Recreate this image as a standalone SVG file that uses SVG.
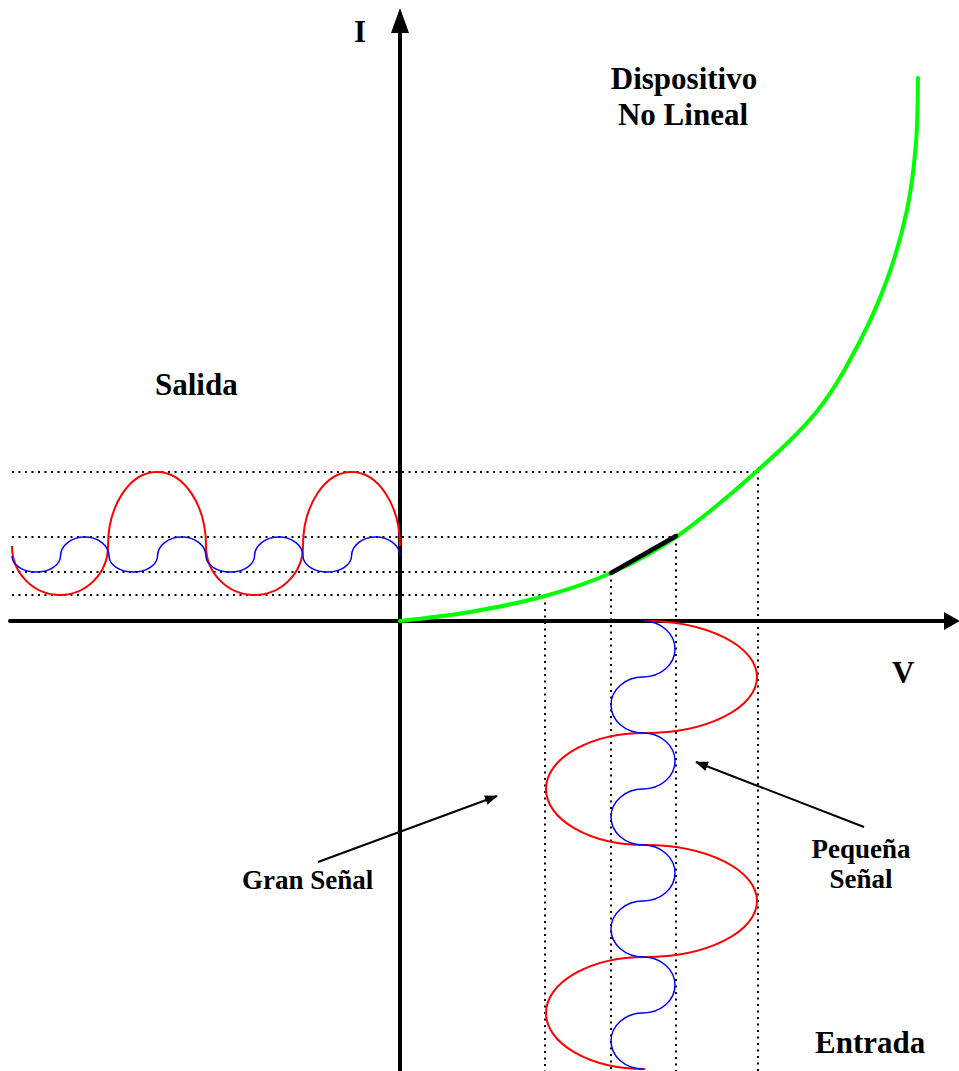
<svg xmlns="http://www.w3.org/2000/svg" width="959" height="1071" viewBox="0 0 959 1071">
<style>
.lbl{font-family:"Liberation Serif","Times New Roman",serif;font-weight:bold;fill:#000}
.big{font-size:31px}
.small{font-size:27px}
.dot{stroke:#000;stroke-width:2;stroke-dasharray:2 4.5;fill:none}
.axis{stroke:#000;stroke-width:4;fill:none;stroke-linecap:round}
.red{stroke:#ff0000;stroke-width:2;fill:none}
.blue{stroke:#0000ff;stroke-width:1.5;fill:none}
.ptr{stroke:#000;stroke-width:2;fill:none}
</style>
<defs>
<marker id="ah" markerUnits="userSpaceOnUse" markerWidth="14" markerHeight="12" refX="12" refY="5" orient="auto">
<path d="M0,0 L13,5 L0,10 z" fill="#000"/>
</marker>
</defs>
<rect width="959" height="1071" fill="#fff"/>

<g id="guides">
<line class="dot" x1="12" y1="472" x2="757" y2="472"/>
<line class="dot" x1="12" y1="537" x2="676" y2="537"/>
<line class="dot" x1="12" y1="572" x2="611" y2="572"/>
<line class="dot" x1="12" y1="595" x2="545" y2="595"/>
<line class="dot" x1="545" y1="596" x2="545" y2="1071"/>
<line class="dot" x1="611" y1="573" x2="611" y2="1071"/>
<line class="dot" x1="676" y1="537" x2="676" y2="1071"/>
<line class="dot" x1="758" y1="471" x2="758" y2="1071"/>
</g>

<g id="axes">
<line class="axis" x1="400" y1="30" x2="400" y2="1071"/>
<polygon points="400,8 391,33 409,33" fill="#000"/>
<line class="axis" x1="10" y1="621" x2="946" y2="621"/>
<polygon points="960,621 944,612 944,630" fill="#000"/>
</g>

<g id="output-waves">
<path class="red" d="M12,546 A48,49 0 0 0 108,546 A49,74 0 0 1 206,546 A48.5,49 0 0 0 303,546 A48.5,74 0 0 1 400,546"/>
<path class="blue" d="M12,556 A24.25,16 0 0 0 60.5,556 A24.25,19 0 0 1 109,556 A24.25,16 0 0 0 157.5,556 A24.25,19 0 0 1 206,556 A24.25,16 0 0 0 254.5,556 A24.25,19 0 0 1 303,556 A24.25,16 0 0 0 351.5,556 A24.25,19 0 0 1 400,556"/>
</g>

<g id="input-waves">
<path class="red" d="M645,621 A112,56 0 0 1 645,733 A99,56 0 0 0 645,845 A112,56 0 0 1 645,957 A99,56 0 0 0 645,1069"/>
<path class="blue" d="M643,621 A32,28 0 0 1 643,677 A32,28 0 0 0 643,733 A32,28 0 0 1 643,789 A32,28 0 0 0 643,845 A32,28 0 0 1 643,901 A32,28 0 0 0 643,957 A32,28 0 0 1 643,1013 A32,28 0 0 0 643,1069"/>
</g>

<g id="curve">
<path d="M400,621 C411.7,619.5 445.8,616.2 470,612 C494.2,607.8 521.5,602.5 545,596 C568.5,589.5 589.2,582.8 611,573 C632.8,563.2 651.7,554 676,537 C700.3,520 733.3,492.2 757,471 C780.7,449.8 801,431.3 818,410 C835,388.7 847.3,365.2 859,343 C870.7,320.8 880,299.2 888,277 C896,254.8 902.3,232.3 907,210 C911.7,187.7 914.2,165 916,143 C917.8,121 917.7,88.8 918,78" stroke="#00ff00" stroke-width="4" fill="none" stroke-linecap="round"/>
<line x1="611" y1="573" x2="676" y2="536" stroke="#000" stroke-width="4.5" stroke-linecap="round"/>
</g>

<g id="pointers">
<line class="ptr" x1="318" y1="862" x2="497" y2="796" marker-end="url(#ah)"/>
<line class="ptr" x1="864" y1="827" x2="696" y2="762" marker-end="url(#ah)"/>
</g>

<g id="labels">
<text class="lbl big" x="354" y="42">I</text>
<text class="lbl big" x="892" y="683">V</text>
<text class="lbl big" x="684" y="89" text-anchor="middle">Dispositivo</text>
<text class="lbl big" x="683" y="125" text-anchor="middle">No Lineal</text>
<text class="lbl big" x="155" y="395">Salida</text>
<text class="lbl big" x="815" y="1053">Entrada</text>
<text class="lbl small" x="242" y="889">Gran Señal</text>
<text class="lbl small" x="861" y="858" text-anchor="middle">Pequeña</text>
<text class="lbl small" x="861" y="888" text-anchor="middle">Señal</text>
</g>
</svg>
